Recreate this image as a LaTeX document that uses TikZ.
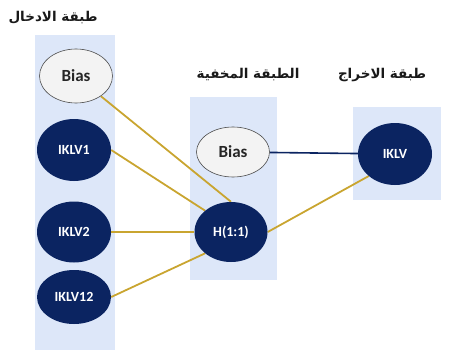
\documentclass[tikz,border=0pt]{standalone}
\usepackage{fontspec}
\setmainfont{Carlito}
\newfontfamily\arabicfont[Script=Arabic]{DejaVu Sans}
\TeXXeTstate=1
\usetikzlibrary{shapes.geometric,backgrounds}
\definecolor{navy}{HTML}{0B2461}
\definecolor{layerbg}{HTML}{DDE7F9}
\definecolor{biasfill}{HTML}{F3F3F3}
\definecolor{gold}{HTML}{C9A530}
\tikzset{
  layer/.style={fill=layerbg, draw=none},
  neuron/.style={ellipse, fill=navy, text=white, font=\bfseries\fontsize{14}{15}\selectfont,
    minimum width=74pt, minimum height=#1, inner sep=0pt},
  neuron/.default=60pt,
  biasnode/.style={ellipse, fill=biasfill, draw=black!70, line width=0.6pt, text=black!85,
    font=\bfseries\fontsize{17}{18}\selectfont, minimum width=73pt, minimum height=#1, inner sep=0pt},
  biasnode/.default=52pt,
  title/.style={font=\arabicfont\bfseries\fontsize{13.5}{15}\selectfont, text=black!90},
  wgold/.style={draw=gold, line width=1.8pt},
  wnavy/.style={draw=navy, line width=1.6pt}
}
\begin{document}
\begin{tikzpicture}[x=1pt,y=-1pt]
\useasboundingbox (0,0) rectangle (449,350);
% layer titles
\node[title] (tin) at (53,18) {\beginR طبقة الادخال\endR};
\node[title] (thid) at (248,75) {\beginR الطبقة المخفية\endR};
\node[title] (tout) at (382,75) {\beginR طبقة الاخراج\endR};
% input layer
\node[biasnode=54pt] (b1) at (76,76) {Bias};
\node[neuron=62pt] (i1) at (74,150) {IKLV1};
\node[neuron=61pt] (i2) at (74,232) {IKLV2};
\node[neuron=54pt] (i12) at (74,297) {IKLV12};
% hidden layer
\node[biasnode=50pt] (b2) at (233,152) {Bias};
\node[neuron=60pt, minimum width=73pt] (h) at (231,232) {H(1:1)};
% output layer
\node[neuron=62pt] (o) at (395,154) {IKLV};
\begin{scope}[on background layer]
% layer panels
\fill[layer] (35,35) rectangle (115,350);
\fill[layer] (190,97) rectangle (277,280);
\fill[layer] (353,107) rectangle (441,200);
% connections
\draw[wgold] (b1) -- (h.north);
\draw[wgold] (i1.east) -- (h.north west);
\draw[wgold] (i2) -- (h);
\draw[wgold] (i12.east) -- (h.south west);
\draw[wgold] (h.east) -- (o.south west);
\draw[wnavy] (b2) -- (o);
\end{scope}
\end{tikzpicture}
\end{document}
